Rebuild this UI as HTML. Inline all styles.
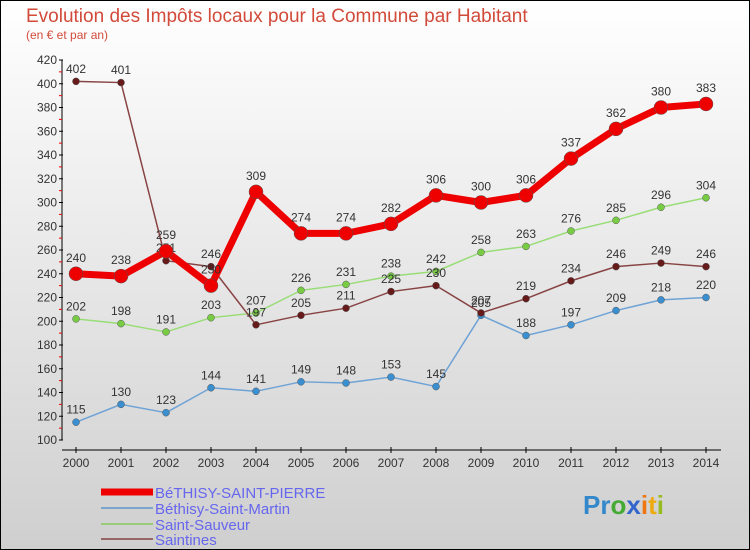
<!DOCTYPE html>
<html><head><meta charset="utf-8"><style>
body{margin:0}
#c{position:relative;width:748px;height:548px;border:1px solid #000;background:linear-gradient(#ffffff,#cfcfcf);overflow:hidden;font-family:"Liberation Sans",sans-serif}
</style></head><body>
<div id="c">
<svg id="s" width="748" height="548" xmlns="http://www.w3.org/2000/svg">
<text x="25" y="21" font-size="19" fill="#d24a3a">Evolution des Impôts locaux pour la Commune par Habitant</text>
<text x="25" y="38" font-size="12" fill="#d24a3a">(en € et par an)</text>
<g id="axes"></g><g id="series"></g>
<g>
<line x1="100" y1="491" x2="152" y2="491" stroke="#ee0000" stroke-width="7"/>
<text x="154" y="497" font-size="15" fill="#6666ee">BéTHISY-SAINT-PIERRE</text>
<line x1="100" y1="507" x2="152" y2="507" stroke="#7aa6cc" stroke-width="2"/>
<text x="154" y="513" font-size="15" fill="#6666ee">Béthisy-Saint-Martin</text>
<line x1="100" y1="523" x2="152" y2="523" stroke="#99cc77" stroke-width="2"/>
<text x="154" y="529" font-size="15" fill="#6666ee">Saint-Sauveur</text>
<line x1="100" y1="538" x2="152" y2="538" stroke="#996666" stroke-width="2"/>
<text x="154" y="544" font-size="15" fill="#6666ee">Saintines</text>
</g>
<g font-size="26" font-weight="bold">
<text x="582" y="513"><tspan fill="#3388cc">Pr</tspan><tspan fill="#44aa33">o</tspan><tspan fill="#3366cc">x</tspan><tspan fill="#ee7711">i</tspan><tspan fill="#eeaa11">t</tspan><tspan fill="#99bb22">i</tspan></text>
</g>
</svg>
</div>
<script>
const years=[2000,2001,2002,2003,2004,2005,2006,2007,2008,2009,2010,2011,2012,2013,2014];
const yTicks=[100,120,140,160,180,200,220,240,260,280,300,320,340,360,380,400,420];
const pierre=[240,238,259,230,309,274,274,282,306,300,306,337,362,380,383];
const martin=[115,130,123,144,141,149,148,153,145,205,188,197,209,218,220];
const sauveur=[202,198,191,203,207,226,231,238,242,258,263,276,285,296,304];
const saintines=[402,401,251,246,197,205,211,225,230,207,219,234,246,249,246];
const NS="http://www.w3.org/2000/svg";
const X=i=>75+i*45;
const Y=v=>439-(v-100)*380/320;
function mk(t,a,p){const e=document.createElementNS(NS,t);for(const k in a)e.setAttribute(k,a[k]);p.appendChild(e);return e;}
const ax=document.getElementById('axes');
const yl=mk('line',{x1:61,y1:59,x2:61,y2:439,stroke:'#000'},ax);


const xl=mk('line',{x1:61,y1:449,x2:720,y2:449,stroke:'#000'},ax);


yTicks.forEach((v,i)=>{
  mk('line',{x1:58,y1:Y(v),x2:62,y2:Y(v),stroke:'#000'},ax);
  if(i<yTicks.length-1)mk('line',{x1:58,y1:Y(v+10),x2:61,y2:Y(v+10),stroke:'#e00'},ax);
  const t=mk('text',{x:56,y:Y(v)+4,'font-size':12,fill:'#333','text-anchor':'end'},ax);
  t.textContent=v;
  
  
});
years.forEach((y,i)=>{
  mk('line',{x1:X(i),y1:446,x2:X(i),y2:452,stroke:'#000'},ax);
  const t=mk('text',{x:X(i),y:466,'font-size':12,fill:'#333','text-anchor':'middle'},ax);
  t.textContent=y;
  
  
});
const sg=document.getElementById('series');
function draw(arr,name,col,w,r,dot){
  const g=mk('g',{},sg);
  
  
  const pl=mk('polyline',{points:arr.map((v,i)=>X(i)+','+Y(v)).join(' '),fill:'none',stroke:col,'stroke-width':w,'stroke-linejoin':'round'},g);
  
  
  arr.forEach((v,i)=>{
    const c=mk('circle',{cx:X(i),cy:Y(v),r:r,fill:dot,stroke:'#555','stroke-width':0.5},g);
    
    
    const t=mk('text',{x:X(i),y:Y(v)-r-5,'font-size':12,fill:'#333','text-anchor':'middle'},g);
    t.textContent=v;
    
    
  });
}
draw(martin,'bethisy-saint-martin','#6fa3d6',1.5,3.5,'#3a8fd0');
draw(sauveur,'saint-sauveur','#99dd77',1.5,3.5,'#77cc44');
draw(saintines,'saintines','#884444',1.5,3.5,'#661a1a');
draw(pierre,'bethisy-saint-pierre','#ee0000',7,7,'#ee0000');
</script>
</body></html>
